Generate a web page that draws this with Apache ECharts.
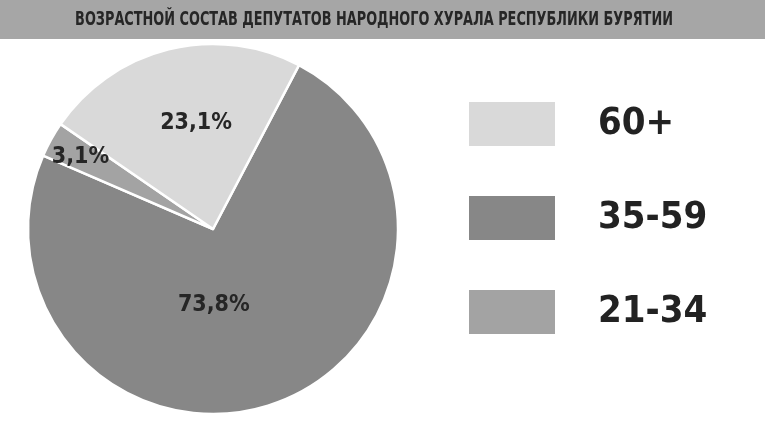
<!DOCTYPE html>
<html><head><meta charset="utf-8">
<script src="https://cdn.jsdelivr.net/npm/echarts@6/dist/echarts.min.js"></script>
<style>html,body{margin:0;padding:0;background:#fff}#c{width:765px;height:424px}</style>
</head><body><div id="c"></div>
<script>
const titleText = 'ВОЗРАСТНОЙ СОСТАВ ДЕПУТАТОВ НАРОДНОГО ХУРАЛА РЕСПУБЛИКИ БУРЯТИИ';
const categories = ['35-59', '21-34', '60+'];
const values = [73.8, 3.1, 23.1];
const colors = ['#878787', '#a3a3a3', '#d9d9d9'];
const legendOrder = ['60+', '35-59', '21-34'];
const labelShift = [[-31, -14], [-49, -26], [6, -13]];

const FONT = '"DejaVu Sans Condensed", "DejaVu Sans", sans-serif';
const chart = echarts.init(document.getElementById('c'));
chart.setOption({
  animation: false,
  backgroundColor: '#ffffff',
  graphic: [
    { type: 'rect', left: 0, top: 0, shape: { width: 765, height: 39 }, style: { fill: '#a6a6a6' }, z: 0 },
    { type: 'text', x: 374, y: 20, scaleX: 0.715, z: 1,
      style: { text: titleText, x: 0, y: 0, align: 'center', verticalAlign: 'middle', fill: '#262626', font: 'bold 20px ' + FONT } }
  ],
  legend: {
    orient: 'vertical', left: 467, top: 100, padding: 0,
    data: legendOrder,
    itemWidth: 88, itemHeight: 46, itemGap: 46,
    icon: 'rect',
    textStyle: { fontFamily: FONT, fontWeight: 'bold', fontSize: 38, color: '#222', padding: [0, 0, 0, 37] }
  },
  series: [{
    type: 'pie',
    center: [213, 229],
    radius: [0, 185],
    startAngle: 62.3,
    clockwise: true,
    silent: true,
    itemStyle: { borderColor: '#ffffff', borderWidth: 2.5 },
    label: {
      show: true, position: 'inside',
      fontFamily: FONT, fontWeight: 'bold', fontSize: 23, color: '#262626',
      formatter: p => String(p.value).replace('.', ',') + '%'
    },
    labelLayout: p => ({ dx: labelShift[p.dataIndex][0], dy: labelShift[p.dataIndex][1] }),
    data: categories.map((c, i) => ({ name: c, value: values[i], itemStyle: { color: colors[i] } }))
  }]
});
</script></body></html>
